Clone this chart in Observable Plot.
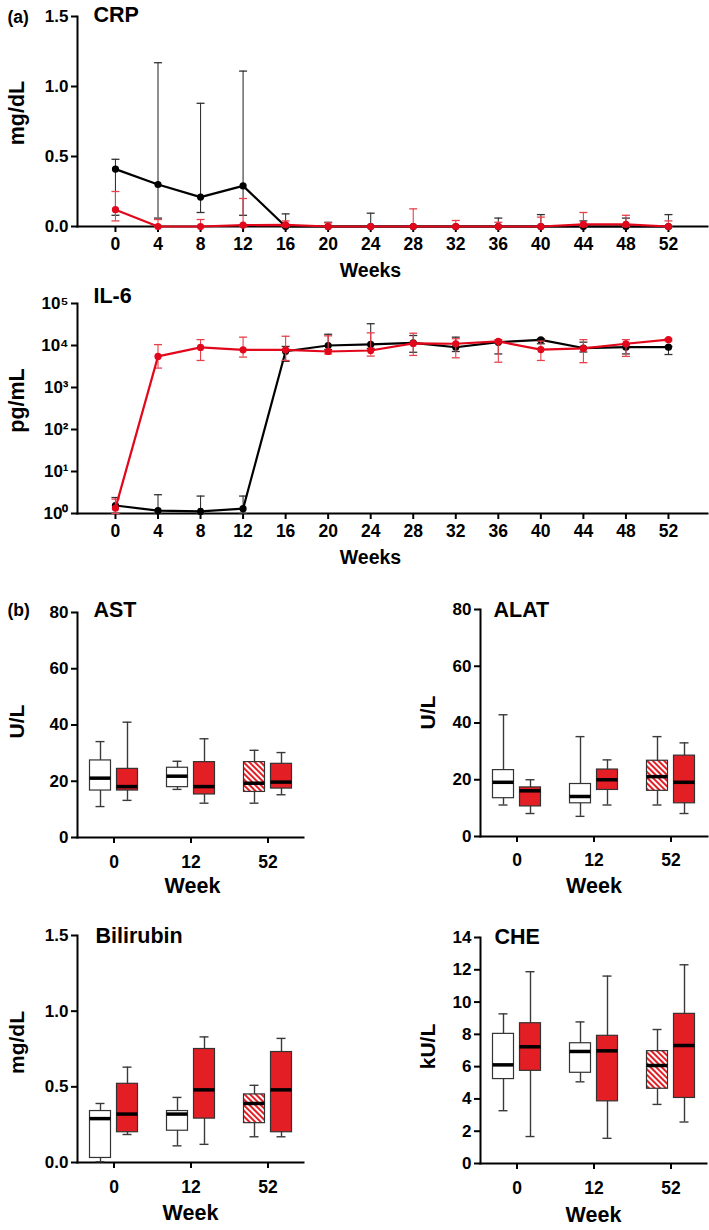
<!DOCTYPE html>
<html><head><meta charset="utf-8">
<script src="https://cdn.jsdelivr.net/npm/d3@7"></script>
<script src="https://cdn.jsdelivr.net/npm/@observablehq/plot@0.6"></script>
<style>
body{margin:0;background:#fff;}
#root{position:relative;width:709px;height:1230px;overflow:hidden;}
#root svg{position:absolute;overflow:visible;}
</style></head><body>
<svg width="0" height="0" style="position:absolute"><defs>
<pattern id="hatch" width="4" height="4" patternUnits="userSpaceOnUse" patternTransform="rotate(-45)">
<rect width="4" height="4" fill="#fff"/><rect width="2" height="4" fill="#e31e24"/></pattern></defs></svg>
<div id="root"></div>
<script>
// ---------- (a) time courses ----------
const weeks = [0,4,8,12,16,20,24,28,32,36,40,44,48,52];

const crpBlack   = [0.41,0.30,0.21,0.29,0,0,0,0,0,0,0,0,0,0];
const crpBlackLo = [0.08,0.06,0.10,0.08,0,0,0,0,0,0,0,0,0,0];
const crpBlackHi = [0.48,1.17,0.88,1.11,0.09,0.03,0.095,0,0,0.06,0.085,0.04,0.06,0.085];
const crpRed     = [0.12,0,0,0.01,0.012,0,0,0,0,0,0,0.015,0.015,0];
const crpRedLo   = [0.04,0,0,0,0,0,0,0,0,0,0,0,0,0];
const crpRedHi   = [0.25,0.05,0.05,0.20,0.04,0.026,0,0.126,0.043,0.03,0.067,0.10,0.08,0.04];

const il6Black   = [1.55,1.17,1.12,1.3,7300,10000,10600,11600,9100,12000,13600,8700,9100,9100];
const il6BlackLo = [1,1,1,1,4200,8000,8500,6900,7200,6300,11000,7000,6300,6100];
const il6BlackHi = [2.4,2.8,2.6,2.6,9500,18500,33000,17300,15800,12500,14500,12000,10500,9500];
const il6Red     = [1.34,5500,9000,7900,7900,7200,7600,11200,11000,12500,8000,8500,11000,13800];
const il6RedLo   = [1,2900,4400,5300,4400,6300,5600,5800,5100,4000,4400,3900,5500,13000];
const il6RedHi   = [2.2,10500,13800,15800,16600,17000,20000,19600,14500,13800,12700,13800,13800,14500];

// ---------- (b) box plots: [min, q1, median, q3, max] per week ----------
const boxWeeks = ["0","12","52"];
const astWhite = [[11,16.7,21.1,27.4,34.1],[17.1,17.9,21.8,24.8,27.1],[12.2,16.2,19.3,26.8,31.0]];
const astRed   = [[13.2,16.7,18.1,24.4,41],[12.2,15.3,18.1,26.8,35.1],[15.2,17.4,19.7,26.2,30.2]];
const alatWhite = [[11.1,13.5,19.1,23.4,42.9],[7.1,11.7,14.1,18.5,35.2],[11.1,16.1,21.1,26.7,35.2]];
const alatRed   = [[8.1,10.6,16.1,17.3,20.0],[11.1,16.4,20.0,23.6,27.0],[8.1,11.7,19.1,28.5,33.0]];
const biliWhite = [[0.005,0.03,0.29,0.34,0.39],[0.11,0.21,0.32,0.34,0.43],[0.17,0.26,0.39,0.45,0.51]];
const biliRed   = [[0.185,0.20,0.32,0.52,0.63],[0.12,0.29,0.48,0.75,0.83],[0.17,0.20,0.48,0.73,0.82]];
const cheWhite = [[3.27,5.23,6.11,8.03,9.27],[5.06,5.62,6.94,7.45,8.77],[3.66,4.63,6.07,6.96,8.30]];
const cheRed   = [[1.67,5.74,7.23,8.69,11.88],[1.56,3.85,6.98,7.91,11.61],[2.57,4.06,7.31,9.27,12.31]];

const RED = "#e2071b", RED_FILL = "#e31e24", ERR_RED = "#e8414c", DARK = "#333";
const FONT = '"Liberation Sans", Arial, Helvetica, sans-serif';
const root = document.getElementById("root");

const capSymbol = {draw(ctx, size){ const w = Math.sqrt(size/Math.PI); ctx.moveTo(-w,0); ctx.lineTo(w,0); }};

function series(v, lo, hi){ return weeks.map((w,i)=>({week:w, v:v[i], lo:lo[i], hi:hi[i]})); }

function place(svg, left, top){ svg.style.left = left+"px"; svg.style.top = top+"px"; root.appendChild(svg); }

const baseStyle = {fontFamily: FONT, fontWeight: "bold", fontSize: "17px", color: "#000", background: "transparent", overflow: "visible"};

function txt(s, o){ return Plot.text([s], {fontWeight:"bold", fill:"#000", lineAnchor:"middle", ...o}); }

function seriesMarks(d, line, err){
  return [
    Plot.ruleX(d, {x:"week", y1:"lo", y2:"hi", stroke: err, strokeWidth: 1.1}),
    Plot.dot(d, {x:"week", y:"hi", symbol: capSymbol, r: 4, stroke: err, strokeWidth: 1.3}),
    Plot.dot(d, {x:"week", y:"lo", symbol: capSymbol, r: 4, stroke: err, strokeWidth: 1.3}),
    Plot.line(d, {x:"week", y:"v", stroke: line, strokeWidth: 2.2}),
    Plot.dot(d, {x:"week", y:"v", r: 3.6, fill: line, stroke: "none"})
  ];
}

function linePanel(o){
  const svg = Plot.plot({
    width: 709, height: o.height,
    marginLeft: 77, marginRight: 2, marginTop: o.mt, marginBottom: o.mb,
    style: baseStyle,
    x: {type: "linear", domain: [-3.57, 55.67]},
    y: o.y,
    marks: [
      Plot.frame({anchor: "left", strokeWidth: 2}),
      Plot.frame({anchor: "bottom", strokeWidth: 2}),
      Plot.axisX({ticks: weeks, tickFormat: d3.format("d"), tickSize: 6, tickPadding: 5, strokeWidth: 2, label: null, fontSize: 17.5}),
      Plot.axisY({ticks: o.yTicks, tickFormat: o.yFormat, tickSize: 6, tickPadding: 3, strokeWidth: 2, label: null, fontSize: 17}),
      ...seriesMarks(o.black, "#000", DARK),
      ...seriesMarks(o.red, RED, ERR_RED),
      txt(o.title, {frameAnchor: "top-left", textAnchor: "start", dx: 16, dy: o.titleDy, fontSize: 21.5}),
      txt(o.unit, {frameAnchor: "left", rotate: -90, textAnchor: "middle", dx: -60, dy: o.unitDy, fontSize: 21.5}),
      txt("Weeks", {frameAnchor: "bottom", textAnchor: "middle", dx: -22, dy: 44, fontSize: 19.5}),
      ...(o.extra || [])
    ]
  });
  place(svg, 0, o.top);
}

const sup = {"0":"\u2070","1":"\u00b9","2":"\u00b2","3":"\u00b3","4":"\u2074","5":"\u2075"};

linePanel({
  top: 0, height: 285, mt: 16, mb: 59,
  y: {type: "linear", domain: [0, 1.5]},
  yTicks: [0, 0.5, 1, 1.5], yFormat: d3.format(".1f"),
  black: series(crpBlack, crpBlackLo, crpBlackHi),
  red: series(crpRed, crpRedLo, crpRedHi),
  title: "CRP", titleDy: -1.5, unit: "mg/dL", unitDy: -8.5,
  extra: [txt("(a)", {frameAnchor: "top-left", textAnchor: "start", dx: -70, dy: 1, fontSize: 17.5})]
});

linePanel({
  top: 285, height: 290, mt: 18, mb: 62,
  y: {type: "log", domain: [1, 1e5]},
  yTicks: [1, 10, 100, 1000, 10000, 100000],
  yFormat: d => "10" + sup[String(Math.round(Math.log10(d)))],
  black: series(il6Black, il6BlackLo, il6BlackHi),
  red: series(il6Red, il6RedLo, il6RedHi),
  title: "IL-6", titleDy: -7, unit: "pg/mL", unitDy: -8
});

function boxRows(A, B){
  const rows = [];
  boxWeeks.forEach((w, i) => {
    const a = A[i], b = B[i];
    rows.push({week: w, grp: "A", kind: i === 2 ? "hatch" : "white", min: a[0], q1: a[1], med: a[2], q3: a[3], max: a[4]});
    rows.push({week: w, grp: "B", kind: "red", min: b[0], q1: b[1], med: b[2], q3: b[3], max: b[4]});
  });
  return rows;
}

function boxMarks(rows, dx){
  const wc = {stroke: "#3a3a3a", strokeWidth: 1.4};
  return [
    Plot.ruleX(rows, {x: "week", y1: "min", y2: "max", dx, ...wc}),
    Plot.tickY(rows, {x: "week", y: "min", dx, insetLeft: 6, insetRight: 6, ...wc}),
    Plot.tickY(rows, {x: "week", y: "max", dx, insetLeft: 6, insetRight: 6, ...wc}),
    Plot.barY(rows, {x: "week", y1: "q1", y2: "q3", dx,
      fill: d => d.kind === "hatch" ? "url(#hatch)" : d.kind === "red" ? RED_FILL : "#ffffff",
      stroke: "#333", strokeWidth: 1.2}),
    Plot.tickY(rows, {x: "week", y: "med", dx, stroke: "#000", strokeWidth: 3.5})
  ];
}

function boxPanel(o){
  const rows = boxRows(o.A, o.B);
  const svg = Plot.plot({
    width: o.width, height: o.height,
    marginLeft: o.ml, marginRight: o.mr, marginTop: o.mt, marginBottom: o.mb,
    style: baseStyle,
    x: {type: "band", domain: boxWeeks, paddingInner: 0.729, paddingOuter: 0.3225},
    y: {domain: o.yDomain},
    color: {type: "identity"},
    marks: [
      Plot.frame({anchor: "left", strokeWidth: 2}),
      Plot.frame({anchor: "bottom", strokeWidth: 2}),
      Plot.axisX({tickSize: 6, tickPadding: o.xPad, strokeWidth: 2, label: null, fontSize: 17.5}),
      Plot.axisY({ticks: o.yTicks, tickFormat: o.yFormat, tickSize: 6, tickPadding: 3, strokeWidth: 2, label: null, fontSize: 17}),
      ...boxMarks(rows.filter(d => d.grp === "A"), -13.5),
      ...boxMarks(rows.filter(d => d.grp === "B"), 13.5),
      txt(o.title, {frameAnchor: "top-left", textAnchor: "start", dx: o.tdx, dy: o.tdy, fontSize: 21.5}),
      txt(o.unit, {frameAnchor: "left", rotate: -90, textAnchor: "middle", dx: o.udx, dy: o.udy, fontSize: 21}),
      txt("Week", {frameAnchor: "bottom", textAnchor: "middle", dx: o.wdx, dy: o.wdy, fontSize: 21.5}),
      ...(o.extra || [])
    ]
  });
  place(svg, o.left, o.top);
}

const f0 = d3.format("d"), f1 = d3.format(".1f");

boxPanel({left: 0, top: 580, width: 354, height: 320, ml: 77, mr: 51, mt: 32, mb: 63, xPad: 12,
  A: astWhite, B: astRed, yDomain: [0, 80], yTicks: [0,20,40,60,80], yFormat: f0,
  title: "AST", tdx: 16, tdy: -2, unit: "U/L", udx: -60, udy: -3.5, wdx: 2, wdy: 49,
  extra: [txt("(b)", {frameAnchor: "top-left", textAnchor: "start", dx: -70, dy: -2.5, fontSize: 17.5})]});

boxPanel({left: 354, top: 580, width: 355, height: 320, ml: 126, mr: 2, mt: 29, mb: 64, xPad: 11,
  A: alatWhite, B: alatRed, yDomain: [0, 80], yTicks: [0,20,40,60,80], yFormat: f0,
  title: "ALAT", tdx: 13, tdy: 1, unit: "U/L", udx: -52, udy: -10.5, wdx: 0, wdy: 50});

boxPanel({left: 0, top: 900, width: 354, height: 330, ml: 77, mr: 51, mt: 35, mb: 68, xPad: 12,
  A: biliWhite, B: biliRed, yDomain: [0, 1.5], yTicks: [0,0.5,1,1.5], yFormat: f1,
  title: "Bilirubin", tdx: 18, tdy: 1, unit: "mg/dL", udx: -60, udy: -6.5, wdx: 0, wdy: 51});

boxPanel({left: 354, top: 900, width: 355, height: 330, ml: 126, mr: 3, mt: 37, mb: 67, xPad: 12,
  A: cheWhite, B: cheRed, yDomain: [0, 14], yTicks: [0,2,4,6,8,10,12,14], yFormat: f0,
  title: "CHE", tdx: 14, tdy: 0, unit: "kU/L", udx: -52, udy: -4, wdx: 0, wdy: 51.5});
</script>
</body></html>
